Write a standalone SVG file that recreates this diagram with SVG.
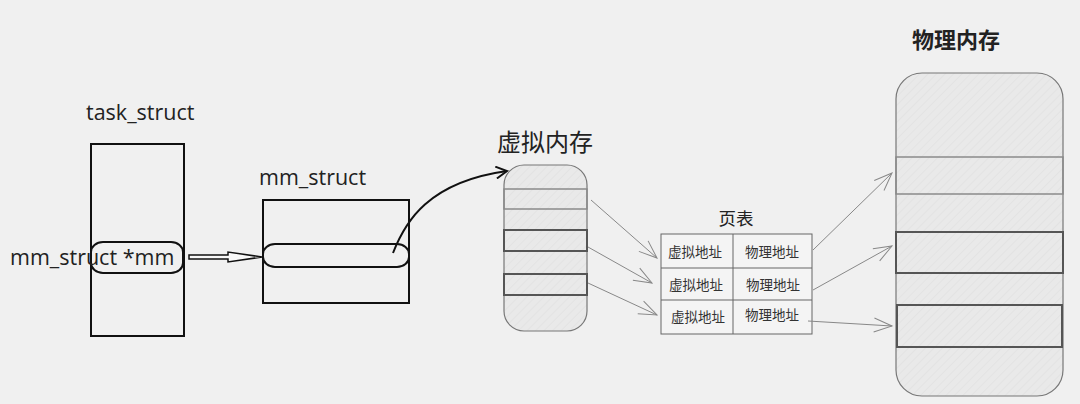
<svg xmlns="http://www.w3.org/2000/svg" width="1080" height="404" viewBox="0 0 1080 404">
<defs>
<pattern id="hatch" patternUnits="userSpaceOnUse" width="6" height="6" patternTransform="rotate(45)">
<rect width="6" height="6" fill="#e9e9e9"/>
<line x1="0" y1="0" x2="0" y2="6" stroke="#dfdfdf" stroke-width="1.2"/>
</pattern>
<marker id="blk" markerWidth="14" markerHeight="14" refX="12" refY="7" orient="auto" markerUnits="userSpaceOnUse">
<path d="M1,1 L12,7 L1,13" fill="none" stroke="#111" stroke-width="2"/>
</marker>
<marker id="gry" markerWidth="22" markerHeight="16" refX="20" refY="8" orient="auto" markerUnits="userSpaceOnUse">
<path d="M2,1 L20,8 L2,15" fill="none" stroke="#888" stroke-width="1"/>
</marker>
</defs>
<style>
.lat{font-family:"Open Sans","Noto Sans",sans-serif;fill:#222}
.cjk{font-family:"Noto Sans CJK SC",sans-serif;fill:#222}
.box{fill:none;stroke:#111;stroke-width:2}
.mem{fill:url(#hatch);stroke:#777;stroke-width:1.2}
.rowl{fill:none;stroke:#8a8a8a;stroke-width:1.5}
.rowd{fill:none;stroke:#555;stroke-width:2}
.tbl{fill:#f4f4f4;stroke:#666;stroke-width:1}
.garr{fill:none;stroke:#888;stroke-width:1;marker-end:url(#gry)}
.cell{font-family:"Noto Sans CJK SC",sans-serif;font-size:13.5px;fill:#333;text-anchor:middle}
</style>
<rect width="1080" height="404" fill="#f0f0f0"/>

<g id="task_struct">
<text class="lat" x="86" y="120" font-size="21.5">task_struct</text>
<rect class="box" x="91" y="144" width="93" height="192"/>
<rect class="box" x="91" y="242" width="92" height="31" rx="12" ry="10" stroke-width="1.8"/>
<text class="lat" x="10" y="265" font-size="21.5">mm_struct *mm</text>
</g>

<g id="mm_struct">
<text class="lat" x="259" y="185" font-size="21.5">mm_struct</text>
<rect class="box" x="263" y="200" width="146" height="103"/>
<rect class="box" x="263" y="244" width="146" height="23" rx="12" ry="10" stroke-width="1.8"/>
</g>

<g id="virtual_memory">
<text class="cjk" x="497" y="151" font-size="24">虚拟内存</text>
<rect class="mem" x="504" y="165" width="83" height="166" rx="20" ry="20"/>
<rect class="rowl" x="504" y="189" width="83" height="20"/>
<rect class="rowd" x="504" y="230" width="83" height="21"/>
<rect class="rowd" x="504" y="274" width="83" height="21"/>
</g>

<g id="page_table">
<text class="cjk" x="736" y="225" font-size="17.5" text-anchor="middle">页表</text>
<rect class="tbl" x="661" y="234" width="151" height="100"/>
<line x1="733" y1="234" x2="733" y2="334" stroke="#666"/>
<line x1="661" y1="268" x2="812" y2="268" stroke="#666"/>
<line x1="661" y1="300" x2="812" y2="300" stroke="#666"/>
<text class="cell" x="695" y="257">虚拟地址</text>
<text class="cell" x="772" y="257">物理地址</text>
<text class="cell" x="696" y="290">虚拟地址</text>
<text class="cell" x="773" y="290">物理地址</text>
<text class="cell" x="698" y="322">虚拟地址</text>
<text class="cell" x="772" y="320">物理地址</text>
</g>

<g id="physical_memory">
<text class="cjk" x="912" y="48" font-size="22" font-weight="bold">物理内存</text>
<rect class="mem" x="896" y="73" width="167" height="323" rx="26" ry="26"/>
<rect class="rowl" x="896" y="157" width="167" height="37"/>
<rect class="rowd" x="896" y="232" width="167" height="41"/>
<rect class="rowd" x="897" y="305" width="165" height="42"/>
</g>

<g id="connectors">
<polygon points="189,255 228,255 228,252 262,257 228,262 228,259 189,259" fill="#f8f8f8" stroke="#111" stroke-width="1.5"/>
<path d="M393,253 C405,222 428,182 507,171" fill="none" stroke="#111" stroke-width="2" marker-end="url(#blk)"/>
<line class="garr" x1="591" y1="200" x2="657" y2="258"/>
<line class="garr" x1="588" y1="247" x2="652" y2="283"/>
<line class="garr" x1="588" y1="283" x2="657" y2="315"/>
<line class="garr" x1="813" y1="250" x2="892" y2="173"/>
<line class="garr" x1="813" y1="290" x2="892" y2="246"/>
<line class="garr" x1="808" y1="321" x2="892" y2="326"/>
</g>
</svg>
